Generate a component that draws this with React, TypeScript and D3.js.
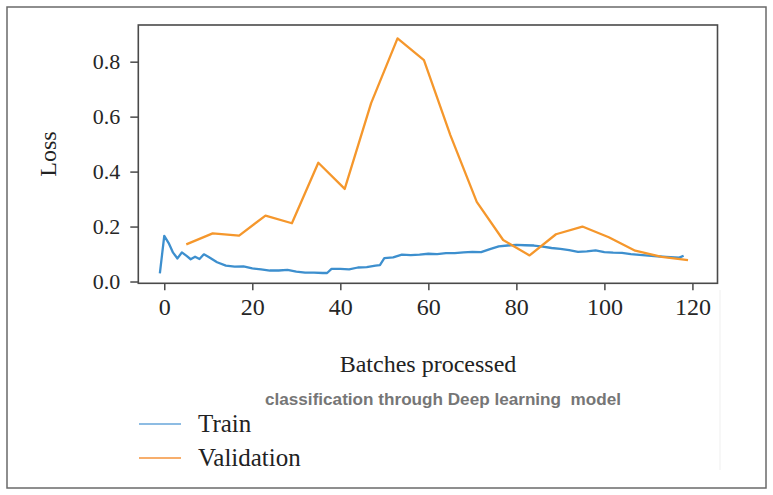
import * as d3 from 'd3';
import React, { useRef, useEffect } from 'react';

// Validation loss, read every ~6 batches
const valX = [5, 11, 17, 23, 29, 35, 41, 47, 53, 59, 65, 71, 77, 83, 89, 95, 101, 107, 113, 119];
const valY = [0.135, 0.175, 0.167, 0.240, 0.212, 0.432, 0.337, 0.649, 0.885, 0.806,
  0.533, 0.290, 0.151, 0.095, 0.172, 0.200, 0.161, 0.112, 0.090, 0.078];

// Train loss
const trainX = [-1, 0, 1, 2, 3, 4, 5, 6, 7, 8, 9, 10, 12, 14, 16, 18, 20, 22, 24, 26, 28, 30,
  32, 34, 36, 37, 38, 40, 42, 44, 46, 48, 49, 50, 52, 54, 56, 58, 60, 62, 64, 66, 68, 70, 72,
  74, 76, 78, 80, 82, 84, 86, 88, 90, 92, 94, 96, 98, 100, 102, 104, 106, 108, 110, 112, 114,
  116, 117, 118];
const trainY = [0.030, 0.166, 0.140, 0.105, 0.084, 0.106, 0.094, 0.081, 0.090, 0.082, 0.099,
  0.090, 0.070, 0.058, 0.054, 0.055, 0.048, 0.044, 0.040, 0.040, 0.042, 0.036, 0.032, 0.032,
  0.031, 0.031, 0.046, 0.046, 0.044, 0.051, 0.052, 0.058, 0.060, 0.085, 0.088, 0.098, 0.096,
  0.098, 0.101, 0.100, 0.103, 0.103, 0.106, 0.108, 0.107, 0.118, 0.128, 0.131, 0.133, 0.132,
  0.131, 0.127, 0.122, 0.119, 0.114, 0.108, 0.110, 0.113, 0.107, 0.105, 0.104, 0.100, 0.097,
  0.094, 0.092, 0.090, 0.088, 0.087, 0.094];

const xTicks = [0, 20, 40, 60, 80, 100, 120];
const yTicks = [0.0, 0.2, 0.4, 0.6, 0.8];

const seriesNames = ['Train', 'Validation'];
const seriesColors = ['#3d8fce', '#f5972c'];
const legendColors = ['#8dbce3', '#f7ae6c'];

const W = 773;
const H = 495;
const serif = '"Liberation Serif", "Times New Roman", serif';

const App: React.FC = () => {
  const ref = useRef<SVGSVGElement>(null);

  useEffect(() => {
    if (!ref.current) return;
    const svg = d3.select(ref.current);
    svg.selectAll('*').remove();

    const frame = { left: 138.3, right: 717.5, top: 25, bottom: 283.3 };

    const x = d3.scaleLinear().domain([-5.9, 125.7]).range([frame.left, frame.right]);
    const y = d3.scaleLinear().domain([-0.0065, 0.9335]).range([frame.bottom, frame.top]);

    svg.append('rect').attr('width', W).attr('height', H).attr('fill', '#fff');

    // outer picture border
    svg.append('rect')
      .attr('x', 7).attr('y', 7).attr('width', 759).attr('height', 481)
      .attr('fill', 'none').attr('stroke', '#6a6a6a').attr('stroke-width', 1.5);

    // faint edge of pasted figure
    svg.append('line')
      .attr('x1', 720).attr('x2', 720).attr('y1', 290).attr('y2', 470)
      .attr('stroke', '#efefef').attr('stroke-width', 1);

    const line = d3.line<[number, number]>()
      .x(d => x(d[0]))
      .y(d => y(d[1]));

    const trainData: [number, number][] = trainX.map((v, i) => [v, trainY[i]]);
    const valData: [number, number][] = valX.map((v, i) => [v, valY[i]]);

    svg.append('path')
      .datum(trainData)
      .attr('d', line)
      .attr('fill', 'none')
      .attr('stroke', seriesColors[0])
      .attr('stroke-width', 2.3)
      .attr('stroke-linejoin', 'round');

    svg.append('path')
      .datum(valData)
      .attr('d', line)
      .attr('fill', 'none')
      .attr('stroke', seriesColors[1])
      .attr('stroke-width', 2.3)
      .attr('stroke-linejoin', 'round');

    // plot frame
    svg.append('rect')
      .attr('x', frame.left).attr('y', frame.top)
      .attr('width', frame.right - frame.left).attr('height', frame.bottom - frame.top)
      .attr('fill', 'none').attr('stroke', '#4a4a4a').attr('stroke-width', 1.6);

    // x axis
    const xAxis = d3.axisBottom(x).tickValues(xTicks).tickSize(7).tickPadding(8)
      .tickFormat(d => String(d));
    const gx = svg.append('g').attr('transform', `translate(0,${frame.bottom})`).call(xAxis);
    gx.select('.domain').remove();
    gx.selectAll('line').attr('stroke', '#4a4a4a').attr('stroke-width', 1.5);
    gx.selectAll('text').attr('font-family', serif).attr('font-size', 24).attr('fill', '#262626');

    // y axis
    const yAxis = d3.axisLeft(y).tickValues(yTicks).tickSize(8).tickPadding(10)
      .tickFormat(d3.format('.1f'));
    const gy = svg.append('g').attr('transform', `translate(${frame.left},0)`).call(yAxis);
    gy.select('.domain').remove();
    gy.selectAll('line').attr('stroke', '#4a4a4a').attr('stroke-width', 1.5);
    gy.selectAll('text').attr('font-family', serif).attr('font-size', 22).attr('fill', '#262626');

    svg.append('text')
      .attr('transform', 'translate(56,154) rotate(-90)')
      .attr('text-anchor', 'middle')
      .attr('font-family', serif).attr('font-size', 24).attr('fill', '#222')
      .text('Loss');

    svg.append('text')
      .attr('x', 428).attr('y', 372)
      .attr('text-anchor', 'middle')
      .attr('font-family', serif).attr('font-size', 24).attr('fill', '#222')
      .text('Batches processed');

    svg.append('text')
      .attr('x', 265).attr('y', 405)
      .attr('font-family', '"Liberation Sans", Arial, sans-serif')
      .attr('font-weight', 'bold').attr('font-size', 17).attr('fill', '#767676')
      .attr('textLength', 356).attr('lengthAdjust', 'spacingAndGlyphs')
      .attr('xml:space', 'preserve')
      .text('classification through Deep learning  model');

    // legend
    const legend = svg.append('g');
    seriesNames.forEach((name, i) => {
      const ly = 424 + i * 34;
      legend.append('line')
        .attr('x1', 139).attr('x2', 181).attr('y1', ly).attr('y2', ly)
        .attr('stroke', legendColors[i]).attr('stroke-width', 2);
      legend.append('text')
        .attr('x', 198).attr('y', ly + 8)
        .attr('font-family', serif).attr('font-size', 25).attr('fill', '#222')
        .text(name);
    });
  }, []);

  return (
    <svg ref={ref} width={W} height={H}
      style={{ position: 'absolute', left: 0, top: 0, display: 'block' }} />
  );
};

export default App;
